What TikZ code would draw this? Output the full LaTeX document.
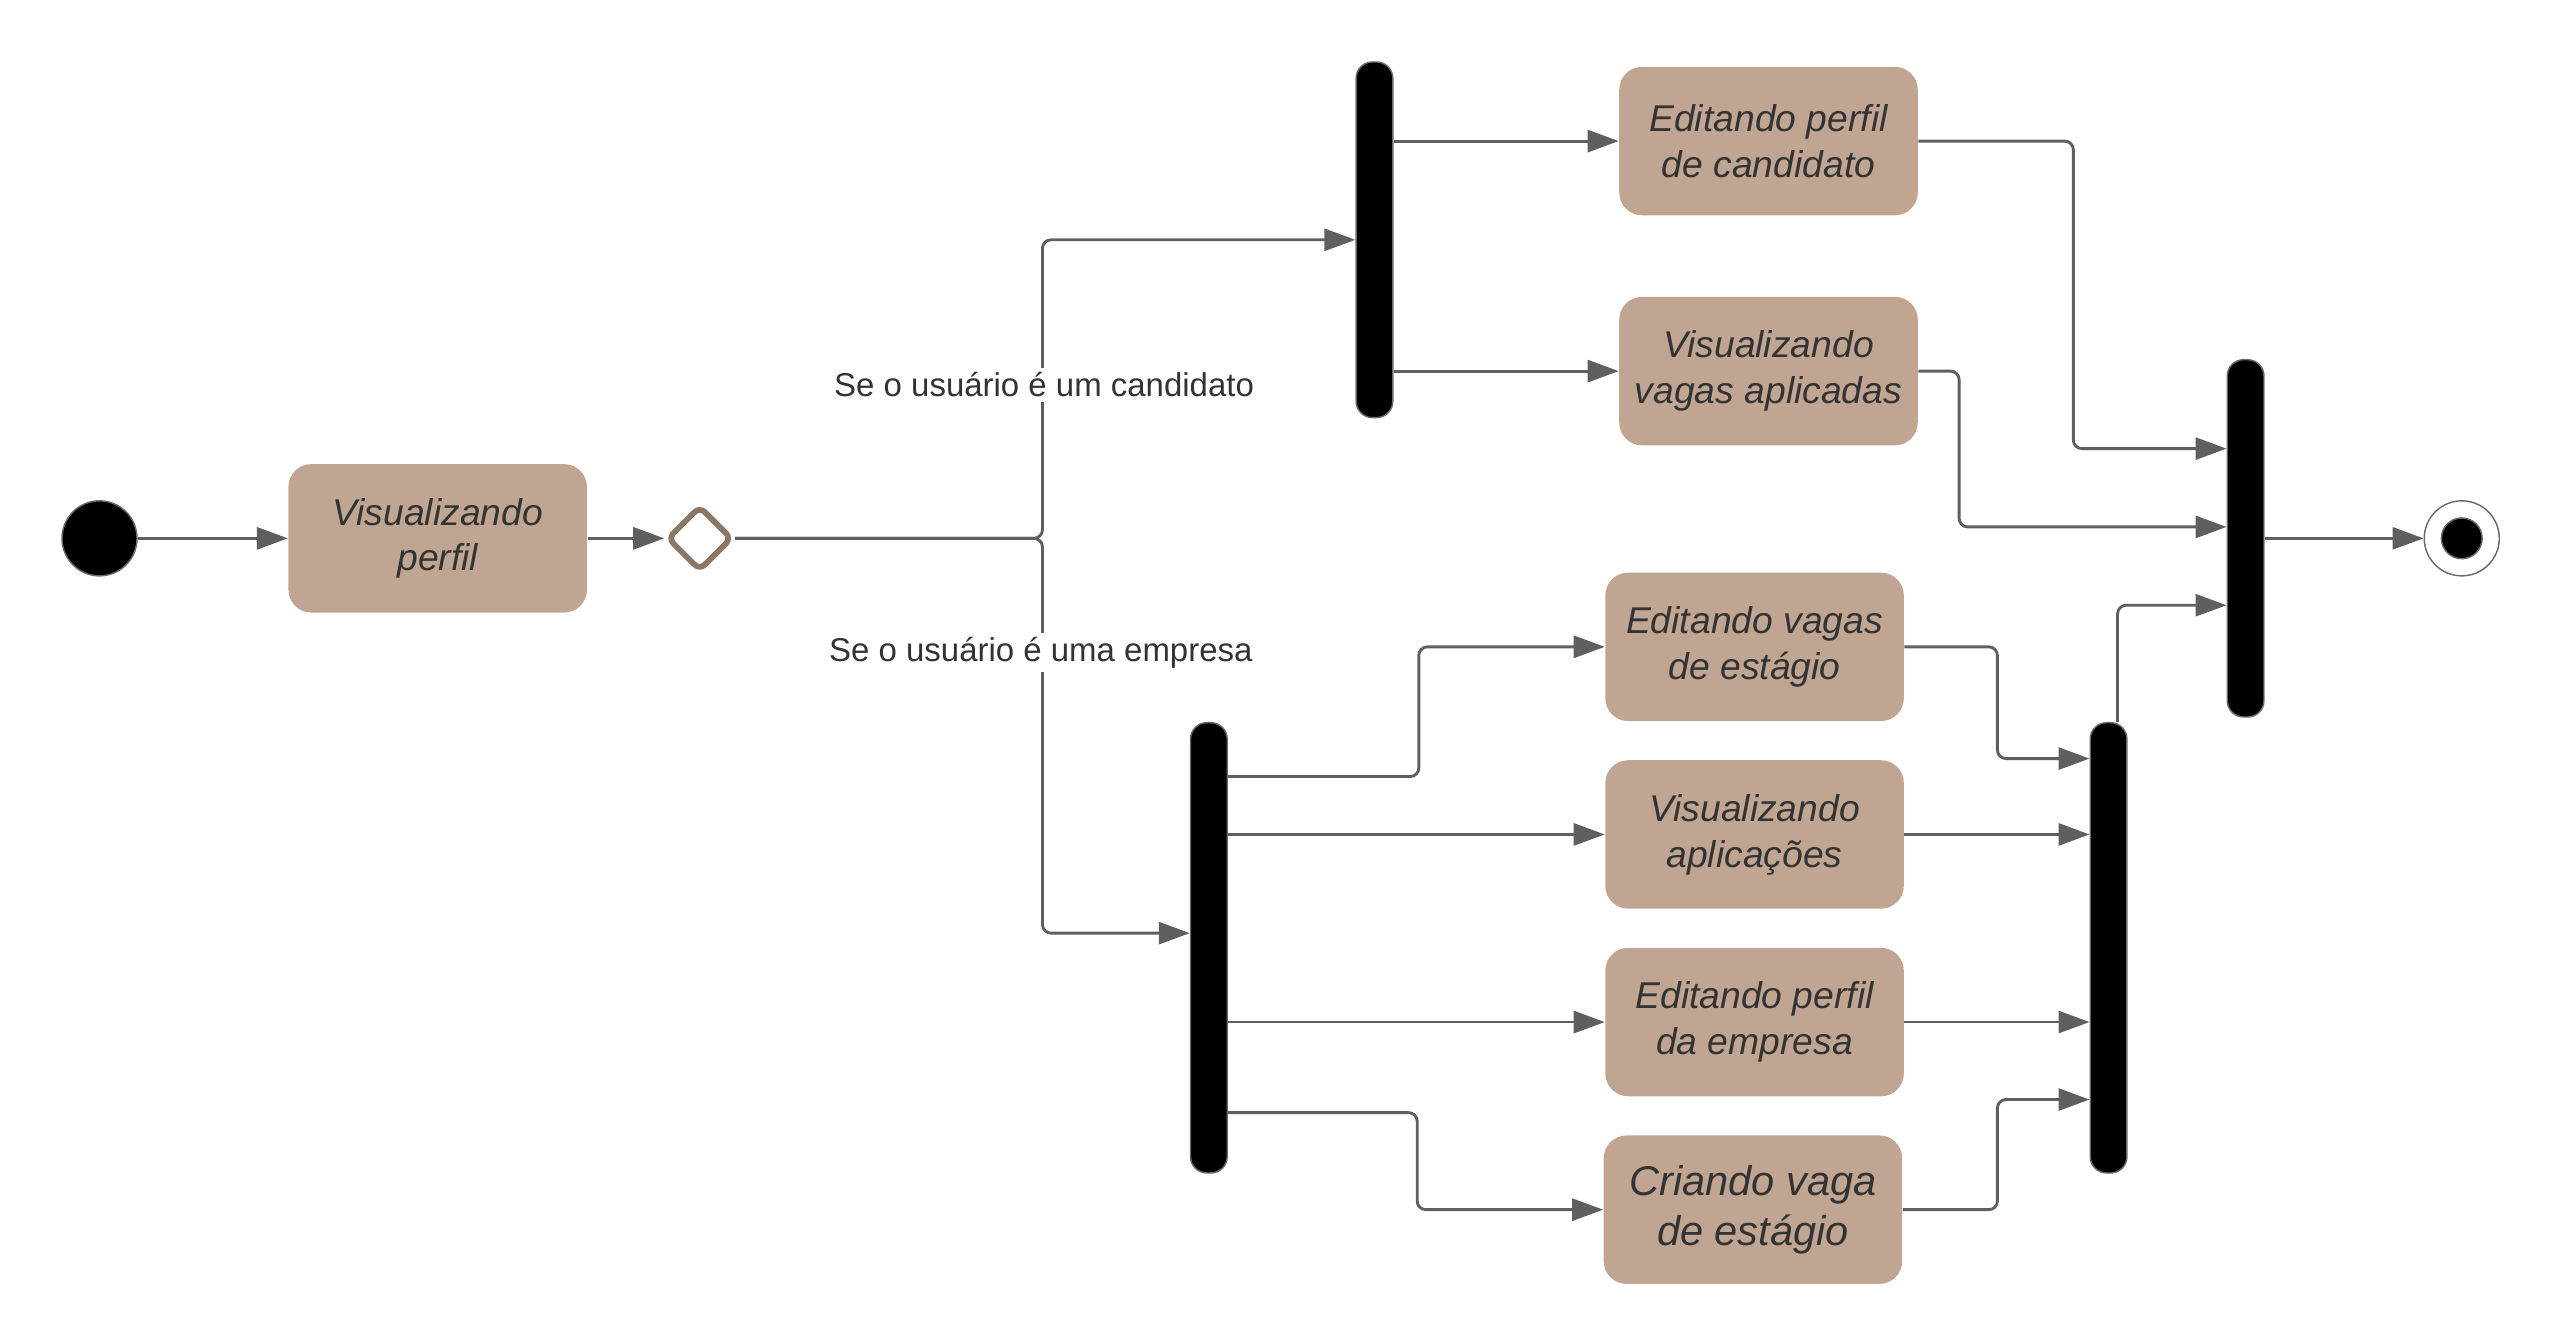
\documentclass[tikz,border=0pt]{standalone}
\usepackage{fontspec}
\setmainfont{Liberation Sans}
\usetikzlibrary{arrows.meta, positioning, calc, shapes.geometric}
\definecolor{actfill}{HTML}{C0A692}
\definecolor{choiceborder}{HTML}{8B7763}
\definecolor{linkline}{HTML}{5F5F5F}
\definecolor{barline}{HTML}{6A6A6A}
\definecolor{ink}{HTML}{333333}
\tikzset{
  act/.style={rectangle, rounded corners=0.28cm, fill=actfill, draw=none,
              minimum width=3.66cm, minimum height=1.82cm, align=center,
              inner sep=2pt, text=ink, font=\itshape\fontsize{13}{16}\selectfont},
  bigact/.style={act, font=\itshape\fontsize{14.5}{17.6}\selectfont},
  bar/.style={rectangle, rounded corners=0.2cm, fill=black, draw=barline,
              line width=0.5pt, minimum width=0.45cm, inner sep=0pt},
  initial/.style={circle, fill=black, draw=barline, line width=0.5pt,
                  minimum size=0.92cm, inner sep=0pt},
  final/.style={circle, fill=white, draw=barline, line width=0.5pt,
                minimum size=0.92cm, inner sep=0pt,
                path picture={\draw[fill=black, draw=barline, line width=0.5pt]
                  (path picture bounding box.center) circle (0.25cm);}},
  decision/.style={diamond, draw=choiceborder, fill=white, line width=2pt,
                   minimum width=0.8cm, minimum height=0.8cm, inner sep=0pt,
                   rounded corners=2.5pt},
  guard/.style={fill=white, inner sep=1.5pt, text=ink,
                font=\fontsize{11.5}{14}\selectfont},
  link/.style={draw=linkline, line width=1pt, rounded corners=3pt},
  flow/.style={link, -{Triangle[length=0.38cm, width=0.27cm]}},
}
\def\startgap{1.84cm}
\def\choicegap{0.94cm}
\def\forkgap{2.76cm}

\begin{document}
\begin{tikzpicture}
\useasboundingbox (0,-9.86) rectangle (31.36,6.6);

% Start and profile view
\node[initial] (start) at (1.22,0) {};
\node[act, right=\startgap of start] (perfil) {Visualizando\\perfil};
\node[decision, right=\choicegap of perfil] (choice) {};
\coordinate (split) at (12.78,0);

% Candidate branch
\node[bar, minimum height=4.36cm] (forkC) at (16.85,3.66) {};
\node[act, right=\forkgap of forkC, yshift=1.21cm] (editC) {Editando perfil\\de candidato};
\node[act, right=\forkgap of forkC, yshift=-1.61cm] (viewC) {Visualizando\\vagas aplicadas};

% Company branch
\node[bar, minimum height=5.52cm] (forkE) at (14.82,-5.02) {};
\node[act] (editV) at (21.51,-1.33) {Editando vagas\\de estágio};
\node[act] (viewA) at (21.51,-3.63) {Visualizando\\aplicações};
\node[act] (editE) at (21.51,-5.93) {Editando perfil\\da empresa};
\node[bigact] (newV) at (21.49,-8.23) {Criando vaga\\de estágio};
\node[bar, minimum height=5.52cm] (joinE) at (25.85,-5.02) {};

% Final join and end
\node[bar, minimum height=4.38cm] (joinAll) at (27.53,0) {};
\node[final] (stop) at (30.18,0) {};

% Flow
\draw[flow] (start) -- (perfil);
\draw[flow] (perfil) -- (choice);
\draw[flow] (choice.east) -- (split) |- (forkC.west);
\draw[flow] (choice.east) -- (split) |- ([yshift=0.18cm]forkE.west);
\node[guard] (guardC) at (12.8,1.88) {Se o usuário é um candidato};
\node[guard] (guardE) at (12.76,-1.4) {Se o usuário é uma empresa};

\draw[flow] (forkC.east |- editC) -- (editC);
\draw[flow] (forkC.east |- viewC) -- (viewC);
\draw[flow] (editC.east) -- ++(1.9,0) |- ([yshift=1.1cm]joinAll.west);
\draw[flow] (viewC.east) -- ++(0.5,0) |- ([yshift=0.14cm]joinAll.west);

\draw[flow] ([yshift=2.1cm]forkE.east) -- ++(2.34,0) |- (editV.west);
\draw[flow] (forkE.east |- viewA) -- (viewA);
\draw[flow] (forkE.east |- editE) -- (editE);
\draw[flow] ([yshift=-2.02cm]forkE.east) -- ++(2.32,0) |- (newV.west);

\draw[flow] (editV.east) -- ++(1.14,0) |- ([yshift=2.32cm]joinE.west);
\draw[flow] (viewA) -- (joinE.west |- viewA);
\draw[flow] (editE) -- (joinE.west |- editE);
\draw[flow] (newV.east) -- ++(1.16,0) |- ([yshift=-1.86cm]joinE.west);

\draw[flow] ([xshift=0.11cm]joinE.north) |- ([yshift=-0.82cm]joinAll.west);
\draw[flow] (joinAll) -- (stop);

\end{tikzpicture}
\end{document}
